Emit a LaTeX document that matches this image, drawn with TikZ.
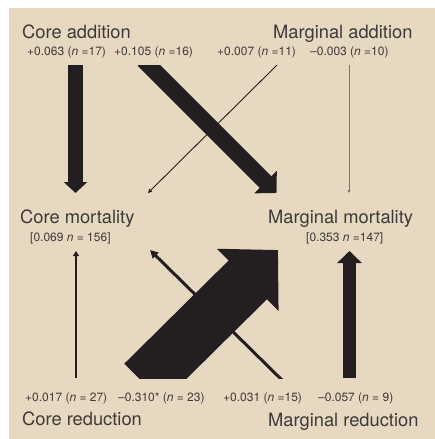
\documentclass[tikz,border=0pt]{standalone}
\usepackage{fontspec}
\setmainfont{TeX Gyre Heros}
\definecolor{panel}{RGB}{231,216,193}
\definecolor{ink}{RGB}{35,31,32}
\definecolor{label}{RGB}{60,58,57}
\definecolor{faint}{RGB}{125,115,108}
\usetikzlibrary{arrows.meta,positioning,calc}

\begin{document}
\begin{tikzpicture}[x=1pt, y=-1pt,
  title/.style={anchor=base west, inner sep=0pt, text=label,
    font=\fontsize{18.3}{20}\selectfont},
  stat/.style={anchor=base west, inner sep=0pt, text=label,
    font=\fontsize{12}{14}\selectfont},
  flow/.style={draw=ink, line cap=butt},
]

\useasboundingbox (0,0) rectangle (435,439);
\fill[panel] (9,8) rectangle (435,439);

% Compartments
\node[title] (cadd) at (22,38) {Core addition};
\node[title] (madd) at (273,38) {Marginal addition};
\node[title] (cmort) at (20,223) {Core mortality};
\node[title] (mmort) at (268,223) {Marginal mortality};
\node[title] (cred) at (22,425) {Core reduction};
\node[title] (mred) at (268,426) {Marginal reduction};

% Rates
\node[stat] (ca-c) at (27,55) {+0.063 (\textit{n} =17)};
\node[stat] (ca-m) at (114,55) {+0.105 (\textit{n} =16)};
\node[stat] (ma-c) at (217,55) {+0.007 (\textit{n} =11)};
\node[stat] (ma-m) at (310,55) {--0.003 (\textit{n} =10)};
\node[stat] (cm-r) at (30,241) {[0.069 \textit{n} = 156]};
\node[stat] (mm-r) at (306,241) {[0.353 \textit{n} =147]};
\node[stat] (cr-c) at (25,401) {+0.017 (\textit{n} = 27)};
\node[stat] (cr-m) at (118,401) {--0.310* (\textit{n} = 23)};
\node[stat] (mr-m) at (223,401) {+0.031 (\textit{n} =15)};
\node[stat] (mr-c) at (318,401) {--0.057 (\textit{n} = 9)};

% Arrow ends
\coordinate (ca-out1) at (75.5,65);    \coordinate (cm-in1) at (75.5,193);
\coordinate (ca-out2) at (143.5,60);   \coordinate (mm-in1) at (276.5,193);
\coordinate (ma-out1) at (277,65);     \coordinate (cm-in2) at (148,193);
\coordinate (ma-out2) at (349,65);     \coordinate (mm-in2) at (349,193);
\coordinate (cr-out1) at (76,378);     \coordinate (cm-in3) at (76,251);
\coordinate (cr-out2) at (143.5,383);  \coordinate (mm-in3) at (278,250);
\coordinate (mr-out1) at (285,383);    \coordinate (cm-in4) at (150,250);
\coordinate (mr-out2) at (349.5,378);  \coordinate (mm-in4) at (349.5,251);

% Additions
\begin{scope}
  \clip (9,65) rectangle (435,200);
  \draw[flow, line width=15pt, -{Triangle[length=11pt,width=23pt]}] (ca-out1) -- (cm-in1);
  \draw[flow, line width=16.3pt, -{Triangle[length=15.5pt,width=31pt]}] (ca-out2) -- (mm-in1);
  \draw[flow, line width=0.9pt, -{Triangle[length=4pt,width=4pt]}] (ma-out1) -- (cm-in2);
  \draw[flow, draw=faint, line width=0.8pt, -{Triangle[length=3pt,width=3pt]}] (ma-out2) -- (mm-in2);
\end{scope}

% Reductions
\begin{scope}
  \clip (9,240) rectangle (435,378);
  \draw[flow, line width=2pt, -{Triangle[length=5pt,width=6pt]}] (cr-out1) -- (cm-in3);
  \draw[flow, line width=54.5pt, -{Triangle[length=42.5pt,width=85pt]}] (cr-out2) -- (mm-in3);
  \draw[flow, line width=3pt, -{Triangle[length=8pt,width=8pt]}] (mr-out1) -- (cm-in4);
  \draw[flow, line width=13pt, -{Triangle[length=12pt,width=24pt]}] (mr-out2) -- (mm-in4);
\end{scope}

\end{tikzpicture}
\end{document}
